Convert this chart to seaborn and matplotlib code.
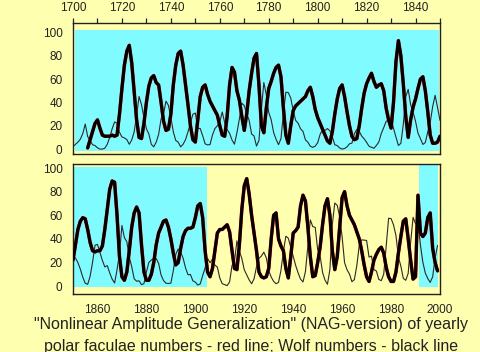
import matplotlib
matplotlib.use("Agg")
import matplotlib.pyplot as plt
import matplotlib.ticker as mticker
import pandas as pd
import seaborn as sns

# ---------------- data ----------------
wolf_top_years = list(range(1700, 1851))
wolf_top = [1.9, 4.1, 5.9, 8.5, 13.3, 21.5, 10.7, 7.4, 3.7, 3.0,
            1.1, 0.0, 0.0, 0.7, 4.1, 10.0, 17.4, 23.3, 22.2, 14.4,
            10.4, 9.6, 8.1, 4.1, 7.8, 14.8, 28.9, 45.1, 38.1, 27.0,
            17.4, 13.0, 4.1, 1.9, 5.9, 12.6, 25.9, 30.0, 41.1, 37.4,
            27.0, 14.8, 7.4, 5.9, 1.9, 4.1, 8.1, 14.8, 22.2, 29.9,
            30.9, 17.6, 17.7, 11.4, 4.5, 3.6, 3.8, 12.0, 17.6, 20.0,
            23.3, 31.8, 22.6, 16.7, 13.5, 7.7, 4.2, 14.0, 25.8, 39.3,
            37.3, 30.2, 24.6, 12.9, 11.3, 2.6, 7.3, 34.2, 57.1, 46.6,
            31.4, 25.2, 14.2, 8.4, 3.8, 8.9, 30.7, 48.8, 48.4, 43.7,
            33.3, 24.6, 22.2, 17.4, 15.2, 7.9, 5.9, 2.4, 1.5, 2.5,
            5.4, 12.6, 16.7, 15.9, 17.6, 15.6, 10.4, 3.7, 3.0, 0.9,
            0.0, 0.5, 1.9, 4.5, 5.1, 13.1, 16.9, 15.2, 11.1, 8.8,
            5.8, 2.4, 1.5, 0.7, 3.1, 6.1, 13.4, 18.4, 23.8, 24.8,
            26.2, 17.7, 10.2, 3.1, 4.9, 21.1, 45.0, 51.2, 38.2, 31.7,
            23.9, 13.6, 9.0, 4.0, 5.6, 14.8, 22.8, 36.4, 46.1, 35.6,
            24.6]

fac_top_years = list(range(1706, 1851))
fac_top = [1, 8, 15, 22, 25, 18, 12, 11, 11, 11,
           12, 11, 12, 30, 52, 72, 84, 89, 74, 50,
           25, 10, 9, 22, 40, 54, 61, 63, 57, 55,
           40, 24, 16, 17, 30, 55, 72, 82, 84, 72,
           55, 38, 20, 8, 6, 25, 45, 53, 55, 47,
           41, 37, 33, 29, 20, 12, 11, 28, 55, 70,
           66, 50, 42, 28, 16, 30, 50, 65, 78, 82,
           55, 20, 14, 35, 52, 58, 65, 70, 72, 62,
           35, 12, 5, 20, 33, 37, 39, 41, 43, 45,
           50, 53, 45, 34, 27, 22, 17, 12, 7, 5,
           15, 30, 43, 52, 55, 45, 32, 20, 11, 8,
           9, 20, 35, 48, 56, 61, 65, 58, 53, 55,
           56, 50, 35, 25, 18, 40, 75, 93, 80, 56,
           28, 10, 25, 36, 43, 52, 60, 62, 50, 32,
           12, 5, 5, 6, 11]

wolf_bot_years = list(range(1850, 2000))
wolf_bot = [24.6, 23.9, 20.0, 14.4, 7.6, 2.5, 1.6, 8.4, 20.3, 34.7,
            35.4, 28.6, 21.9, 16.3, 17.4, 11.3, 6.0, 2.7, 13.9, 27.4,
            51.4, 41.1, 37.6, 24.5, 16.5, 6.3, 4.2, 4.6, 1.3, 2.2,
            12.0, 20.1, 22.1, 23.6, 23.5, 19.3, 9.4, 4.8, 2.5, 2.3,
            2.6, 13.2, 27.0, 31.5, 28.9, 23.7, 15.5, 9.7, 9.9, 4.5,
            3.5, 1.0, 1.9, 9.0, 15.5, 23.5, 19.9, 22.9, 17.9, 16.2,
            6.9, 2.1, 1.3, 0.5, 3.6, 17.5, 21.1, 38.4, 29.8, 23.5,
            13.9, 9.7, 5.3, 2.1, 6.2, 16.4, 23.6, 25.5, 28.8, 24.0,
            13.2, 7.8, 4.1, 2.1, 3.2, 13.4, 29.5, 42.3, 40.6, 32.9,
            25.1, 17.6, 11.3, 6.0, 3.6, 12.3, 34.3, 56.1, 50.4, 49.8,
            31.0, 25.7, 11.7, 5.1, 1.6, 14.1, 52.4, 70.4, 68.4, 58.8,
            41.6, 19.9, 13.9, 10.3, 3.8, 5.6, 17.4, 34.7, 39.2, 39.0,
            38.7, 24.6, 25.5, 14.1, 12.8, 5.7, 4.7, 10.2, 34.2, 57.5,
            57.2, 51.9, 42.9, 24.6, 17.0, 6.6, 5.0, 10.9, 37.1, 58.3,
            52.8, 53.9, 34.9, 20.2, 11.1, 6.5, 3.2, 8.0, 23.8, 34.5]

fac_bot_years = list(range(1850, 2000))
fac_bot = [22, 35, 48, 55, 58, 57, 48, 37, 30, 29,
           30, 30, 34, 48, 65, 82, 89, 88, 60, 25,
           8, 5, 12, 30, 50, 62, 67, 62, 35, 12,
           5, 5, 10, 20, 35, 45, 50, 55, 56, 50,
           40, 28, 18, 20, 32, 42, 47, 49, 49, 50,
           58, 68, 70, 58, 30, 12, 8, 15, 30, 45,
           48, 48, 50, 52, 46, 30, 15, 14, 35, 65,
           85, 91, 78, 60, 45, 30, 12, 8, 7, 8,
           15, 40, 60, 62, 40, 34, 30, 15, 7, 25,
           45, 47, 50, 68, 77, 72, 50, 25, 8, 9,
           20, 33, 52, 68, 74, 60, 30, 14, 25, 50,
           75, 80, 68, 60, 56, 52, 46, 40, 30, 18,
           8, 4, 12, 22, 27, 31, 33, 28, 16, 8,
           4, 4, 12, 28, 42, 55, 57, 40, 22, 6,
           8, 77, 45, 42, 45, 58, 62, 32, 20, 13]

x_ticks_top = [1700, 1720, 1740, 1760, 1780, 1800, 1820, 1840]
x_ticks_bot = [1860, 1880, 1900, 1920, 1940, 1960, 1980, 2000]
y_ticks = [0, 20, 40, 60, 80, 100]

caption1 = '"Nonlinear Amplitude Generalization" (NAG-version) of yearly'
caption2 = 'polar faculae numbers - red line; Wolf numbers - black line'

# ---------------- style ----------------
BG = "#FFFFB0"
CYAN = "#80FBFF"
TXT = "#222222"

sns.set_style("white")
plt.rcParams["font.family"] = ["Liberation Sans", "DejaVu Sans"]

fig = plt.figure(figsize=(4.8, 3.52), dpi=100, facecolor=BG)
ax_top = fig.add_axes([73 / 480, 1 - 153.5 / 352, 367 / 480, 130 / 352])
ax_bot = fig.add_axes([73 / 480, 1 - 294 / 352, 367 / 480, 130 / 352])

df_wt = pd.DataFrame({"year": wolf_top_years, "value": wolf_top})
df_ft = pd.DataFrame({"year": fac_top_years, "value": fac_top})
df_wb = pd.DataFrame({"year": wolf_bot_years, "value": wolf_bot})
df_fb = pd.DataFrame({"year": fac_bot_years, "value": fac_bot})

panels = [
    (ax_top, df_wt, df_ft, (1700, 1850), (-3.8, 107.7),
     [(1701, 1849.6, -1.5, 102.0)]),
    (ax_bot, df_wb, df_fb, (1850, 2000), (-6.6, 103.4),
     [(1850, 1904.8, -1.0, 101.0), (1991.4, 1999.3, -0.5, 102.5)]),
]

for ax, dw, dfc, xl, yl, spans in panels:
    ax.set_facecolor(BG)
    for x0, x1, y0, y1 in spans:
        ax.fill_between([x0, x1], y0, y1, color=CYAN, lw=0, zorder=0)
    sns.lineplot(data=dw, x="year", y="value", ax=ax, color="#2a2a2a",
                 lw=0.8, zorder=2)
    sns.lineplot(data=dfc, x="year", y="value", ax=ax, color="#e00000",
                 lw=2.5, zorder=3)
    sns.lineplot(data=dfc, x="year", y="value", ax=ax, color="black",
                 lw=2.2, zorder=4)
    ax.set_xlim(*xl)
    ax.set_ylim(*yl)
    ax.set_xlabel("")
    ax.set_ylabel("")
    ax.yaxis.set_major_locator(mticker.FixedLocator(y_ticks))
    ax.yaxis.set_minor_locator(mticker.MultipleLocator(10))
    ax.xaxis.set_minor_locator(mticker.MultipleLocator(10))
    for s in ax.spines.values():
        s.set_color("#222222")
        s.set_linewidth(1.0)
    ax.tick_params(which="both", direction="out", length=3.5, width=0.9,
                   color="#222222", labelsize=8.5, labelcolor=TXT)
    ax.tick_params(axis="y", which="both", pad=4.0)

ax_top.xaxis.set_major_locator(mticker.FixedLocator(x_ticks_top))
ax_top.xaxis.tick_top()
ax_top.tick_params(axis="x", which="both", pad=3.0)

ax_bot.xaxis.set_major_locator(mticker.FixedLocator(x_ticks_bot))
ax_bot.tick_params(axis="x", which="both", pad=4.0)

fig.text(0.523, 1 - 329 / 352, caption1, ha="center", va="baseline",
         fontsize=11.5, color=TXT)
fig.text(0.523, 1 - 350.5 / 352, caption2, ha="center", va="baseline",
         fontsize=11.5, color=TXT)

fig.savefig("out.png", dpi=100, facecolor=BG)
